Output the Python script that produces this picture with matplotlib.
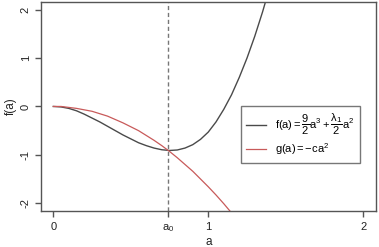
import matplotlib
matplotlib.use("Agg")
import matplotlib.pyplot as plt

plt.rcParams['font.family'] = ['Liberation Sans', 'DejaVu Sans']
plt.rcParams['mathtext.fontset'] = 'custom'
plt.rcParams['mathtext.rm'] = 'Liberation Sans'
plt.rcParams['mathtext.it'] = 'Liberation Sans'

# values
a_f = [0.0, 0.05, 0.1, 0.15, 0.2, 0.25, 0.3, 0.35, 0.4, 0.45, 0.5, 0.55, 0.6, 0.65, 0.7,
       0.75, 0.8, 0.85, 0.9, 0.95, 1.0, 1.05, 1.1, 1.15, 1.2, 1.25, 1.3, 1.35, 1.4]
f_vals = [0.0, -0.01, -0.04, -0.09, -0.16, -0.24, -0.32, -0.41, -0.50, -0.59, -0.67, -0.75,
          -0.81, -0.86, -0.895, -0.91, -0.90, -0.86, -0.79, -0.68, -0.53, -0.32, -0.06,
          0.24, 0.60, 1.00, 1.45, 1.95, 2.5]
a_g = [0.0, 0.05, 0.1, 0.15, 0.2, 0.25, 0.3, 0.35, 0.4, 0.45, 0.5, 0.55, 0.6, 0.65, 0.7,
       0.75, 0.8, 0.85, 0.9, 0.95, 1.0, 1.05, 1.1, 1.15, 1.2]
g_vals = [0.0, 0.0, -0.02, -0.04, -0.07, -0.10, -0.15, -0.20, -0.27, -0.34, -0.42, -0.50,
          -0.60, -0.70, -0.81, -0.93, -1.06, -1.20, -1.34, -1.50, -1.66, -1.83, -2.01,
          -2.20, -2.39]
a0 = 0.742
xticks = [0, a0, 1, 2]
xticklabels = ['0', '$a_0$', '1', '2']
yticks = [-2, -1, 0, 1, 2]

fig = plt.figure(figsize=(3.79, 2.47), dpi=100)
ax = fig.add_axes([0.108, 0.146, 0.883, 0.846])

ax.plot(a_f, f_vals, color='#4a4a4a', lw=1.0,
        label=r'$\mathrm{f(a)=}\dfrac{9}{2}\mathrm{a}^3+\dfrac{\lambda_1}{2}\mathrm{a}^2$')
ax.plot(a_g, g_vals, color='#c85a5a', lw=0.9,
        label=r'$\mathrm{g(a)=-ca}^2$')
ax.axvline(a0, color='#777777', lw=1.0, ls=(0, (3, 2)))

ax.set_xlim(-0.08, 2.08)
ax.set_ylim(-2.16, 2.16)
ax.set_xticks(xticks)
ax.set_xticklabels(xticklabels)
ax.set_yticks(yticks)
ax.set_yticklabels([str(v) for v in yticks], rotation=90, va='center')

for s in ax.spines.values():
    s.set_color('#555555')
    s.set_linewidth(1.0)
ax.tick_params(colors='#555555', labelcolor='#222222', labelsize=8, length=4.3, width=1.0)
ax.tick_params(axis='x', pad=4)
ax.tick_params(axis='y', pad=3)

ax.set_xlabel('a', fontsize=8.5, labelpad=1, color='#222222')
ax.set_ylabel('f(a)', fontsize=8.5, labelpad=3, color='#222222')

leg = ax.legend(loc='upper left', bbox_to_anchor=(0.597, 0.502), fontsize=8,
                frameon=True, fancybox=False, handlelength=1.8, handletextpad=0.8,
                borderpad=0.5, labelspacing=0.4, borderaxespad=0)
leg.get_frame().set_edgecolor('#555555')
leg.get_frame().set_linewidth(1.0)

fig.savefig('out.png', dpi=100)
